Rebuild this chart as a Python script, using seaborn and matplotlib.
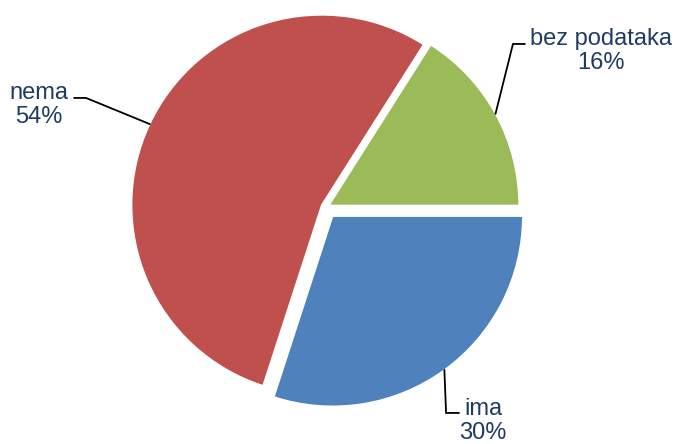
import seaborn as sns
import matplotlib.pyplot as plt
import numpy as np

kategorije = ['ima', 'nema', 'bez podataka']
udjeli = [30, 54, 16]
boje = ['#4F81BD', '#C0504D', '#9BBB59']
izdvajanje = [0.06, 0.025, 0.018]

sns.set_theme(style='white')
plt.rcParams['font.family'] = ['Liberation Sans', 'DejaVu Sans']

fig = plt.figure(figsize=(6.76, 4.44), dpi=100)
ax = fig.add_axes([0, 0, 1, 1])

wedges, _ = ax.pie(udjeli, colors=boje, explode=izdvajanje, startangle=0,
                   counterclock=False, radius=1.0)

# raspored pozicija (1 jedinica = 190 px, centar na 326,207 px)
ax.set_xlim(-326 / 190, (676 - 326) / 190)
ax.set_ylim(-(444 - 207) / 190, 207 / 190)
ax.set_aspect('auto')
ax.axis('off')

# pozicije natpisa i lomova vodilica
tekst_pos = [(0.826, -1.126), (-1.511, 0.537), (1.447, 0.821)]
lom_pos = [[(0.632, -1.084), (0.700, -1.084)],
           [(-1.263, 0.574), (-1.326, 0.574)],
           [(0.984, 0.858), (1.047, 0.858)]]

for w, naziv, pct, tp, lom in zip(wedges, kategorije, udjeli, tekst_pos, lom_pos):
    kut = np.deg2rad((w.theta1 + w.theta2) / 2)
    cx, cy = w.center
    x0 = cx + w.r * np.cos(kut)
    y0 = cy + w.r * np.sin(kut)
    xs = [x0] + [p[0] for p in lom]
    ys = [y0] + [p[1] for p in lom]
    ax.plot(xs, ys, color='black', lw=1.3, solid_joinstyle='miter')
    ax.text(tp[0], tp[1], f'{naziv}\n{pct}%', ha='center', va='center',
            fontsize=17, color='#1F3B63', linespacing=1.15)

fig.savefig('out.png', dpi=100)
